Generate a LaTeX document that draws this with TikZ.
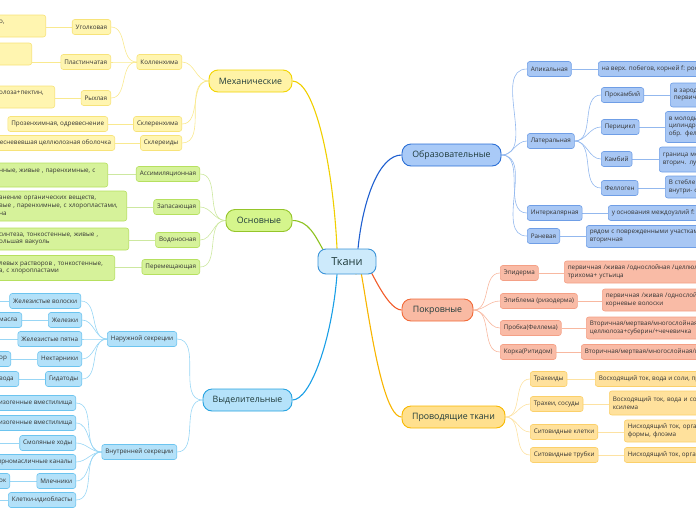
\documentclass[tikz,border=0pt]{standalone}
\usepackage{fontspec}
\setmainfont{Open Sans}
\usetikzlibrary{backgrounds}
\definecolor{ymainf}{HTML}{FFF3A6}\definecolor{ymaind}{HTML}{F2D400}
\definecolor{ysubf}{HTML}{FFF5B0}\definecolor{ysubd}{HTML}{F7E37A}
\definecolor{yline}{HTML}{F9E98F}\definecolor{ymline}{HTML}{F0CF00}
\definecolor{gmainf}{HTML}{D5F58C}\definecolor{gmaind}{HTML}{95C52A}
\definecolor{gsubf}{HTML}{D6F29A}\definecolor{gsubd}{HTML}{B6E060}
\definecolor{gline}{HTML}{CDE8A0}\definecolor{gmline}{HTML}{8DC21F}
\definecolor{cmainf}{HTML}{B5E2FA}\definecolor{cmaind}{HTML}{27A3E0}
\definecolor{csubf}{HTML}{B3E1F9}\definecolor{csubd}{HTML}{6CC4EF}
\definecolor{cline}{HTML}{98D6F5}\definecolor{cmline}{HTML}{1A9FE6}
\definecolor{bmainf}{HTML}{A9CAF7}\definecolor{bmaind}{HTML}{2B6FD5}
\definecolor{bsubf}{HTML}{A8C7F4}\definecolor{bsubd}{HTML}{6F9EE6}
\definecolor{bline}{HTML}{93B8EE}\definecolor{bmline}{HTML}{1F5FD0}
\definecolor{smainf}{HTML}{F9BAA3}\definecolor{smaind}{HTML}{F26A38}
\definecolor{ssubf}{HTML}{F9BBA6}\definecolor{ssubd}{HTML}{F4A086}
\definecolor{sline}{HTML}{F8B8A0}\definecolor{smline}{HTML}{F25C2A}
\definecolor{omainf}{HTML}{FFE08E}\definecolor{omaind}{HTML}{F8B800}
\definecolor{osubf}{HTML}{FFE19C}\definecolor{osubd}{HTML}{FBD06A}
\definecolor{oline}{HTML}{FDE2A2}\definecolor{omline}{HTML}{F8B500}
\definecolor{tkf}{HTML}{CDEAFB}\definecolor{tkd}{HTML}{3A93D8}
\definecolor{mtext}{HTML}{1E3A3A}\definecolor{stext}{HTML}{333333}
\begin{document}
\begin{tikzpicture}[x=1pt,y=-1pt,
  base/.style={draw, align=left, text=stext, font=\fontsize{6.3}{7.8}\selectfont,
    inner xsep=3.5pt, inner ysep=0pt, minimum height=15pt, rounded corners=2.5pt, line width=0.6pt},
  mainbox/.style={draw, text=mtext, font=\fontsize{8.8}{10}\selectfont, minimum height=22pt,
    rounded corners=9pt, line width=0.9pt, inner xsep=2pt},
  ymain/.style={mainbox, fill=ymainf, draw=ymaind},
  gmain/.style={mainbox, fill=gmainf, draw=gmaind},
  cmain/.style={mainbox, fill=cmainf, draw=cmaind},
  bmain/.style={mainbox, fill=bmainf, draw=bmaind},
  smain/.style={mainbox, fill=smainf, draw=smaind},
  omain/.style={mainbox, fill=omainf, draw=omaind},
  ysub/.style={base, fill=ysubf, draw=ysubd},
  gsub/.style={base, fill=gsubf, draw=gsubd},
  csub/.style={base, fill=csubf, draw=csubd},
  bsub/.style={base, fill=bsubf, draw=bsubd},
  ssub/.style={base, fill=ssubf, draw=ssubd},
  osub/.style={base, fill=osubf, draw=osubd},
  conn/.style={line width=0.6pt},
  yl/.style={conn, draw=yline}, gl/.style={conn, draw=gline}, cl/.style={conn, draw=cline},
  bl/.style={conn, draw=bline}, sl/.style={conn, draw=sline}, ol/.style={conn, draw=oline},
  mconn/.style={line width=1.1pt},
  L/.style={out=180,in=0}, R/.style={out=0,in=180}
]
\useasboundingbox (0,0) rectangle (696,520);
\clip (0,0) rectangle (696,520);

% centre
\node[draw=tkd, fill=tkf, text=mtext, font=\fontsize{11}{12}\selectfont, minimum width=58pt,
  minimum height=25pt, rounded corners=8pt, line width=0.9pt] (tk) at (347,261.5) {Ткани};

% ---------- Механические ----------
\node[ymain, minimum width=83pt] (mech) at (250.5,81) {Механические};
\node[ysub, anchor=east] (koll) at (182,62) {Колленхима};
\node[ysub, anchor=east] (ugol) at (111,27) {Уголковая};
\node[ysub, anchor=east, text width=43pt, minimum height=22pt] (ugolT) at (46,26) {о,\\\mbox{}};
\node[ysub, anchor=east] (plast) at (111,62) {Пластинчатая};
\node[ysub, anchor=east, text width=29pt, minimum height=22pt] (plastT) at (32,54) {\mbox{}\\\mbox{}};
\node[ysub, anchor=east] (ryh) at (111,98) {Рыхлая};
\node[ysub, anchor=east, text width=52pt, minimum height=22pt] (ryhT) at (55,97) {олоза+пектин,\\\mbox{}};
\node[ysub, anchor=east] (skl) at (182,124) {Склеренхима};
\node[ysub, anchor=east] (sklT) at (108,124) {Прозенхимная, одревеснение};
\node[ysub, anchor=east] (skld) at (182,143) {Склереиды};
\node[ysub, anchor=east] (skldT) at (115,143) {евесневевшая целлюлозная оболочка};

% ---------- Основные ----------
\node[gmain, minimum width=66pt] (osn) at (259,220.5) {Основные};
\node[gsub, anchor=east] (assim) at (200,174) {Ассимиляционная};
\node[gsub, anchor=east, text width=105pt, minimum height=24pt] (assimT) at (108,175) {нные, живые , паренхимные, с\\\mbox{}};
\node[gsub, anchor=east] (zapas) at (200,207) {Запасающая};
\node[gsub, anchor=east, text width=124pt, minimum height=30pt] (zapasT) at (127,206) {анение органических веществ,\\вые , паренхимные, с хлоропластами,\\на};
\node[gsub, anchor=east] (vodo) at (200,240) {Водоносная};
\node[gsub, anchor=east, text width=126pt, minimum height=22pt] (vodoT) at (129,239) {синтеза, тонкостенные, живые ,\\ольшая вакуоль};
\node[gsub, anchor=east] (perem) at (200,267) {Перемещающая};
\node[gsub, anchor=east, text width=112pt, minimum height=25pt] (peremT) at (115,268) {левых растворов , тонкостенные,\\а, с хлоропластами};

% ---------- Выделительные ----------
\node[cmain, minimum width=89pt] (vyd) at (247.5,400) {Выделительные};
\node[csub, anchor=east] (nar) at (177,339) {Наружной секреции};
\node[csub, anchor=east] (zhv) at (81,301) {Железистые волоски};
\coordinate (zhvT) at (-5,301);
\node[csub, anchor=east] (zhk) at (82,320) {Железки};
\node[csub, anchor=east, text width=19pt] (zhkT) at (22,320) {масла};
\node[csub, anchor=east] (zhp) at (82,339) {Железистые пятна};
\coordinate (zhpT) at (-5,339);
\node[csub, anchor=east] (nekt) at (82,359) {Нектарники};
\node[csub, anchor=east, text width=8pt] (nektT) at (11,359) {ор};
\node[csub, anchor=east] (gid) at (82,379) {Гидатоды};
\node[csub, anchor=east, text width=16pt] (gidT) at (19,379) {вода};
\node[csub, anchor=east] (vnut) at (177,452) {Внутренней секреции};
\node[csub, anchor=east] (sch) at (76,403) {Схизогенные вместилища};
\node[csub, anchor=east] (liz) at (76,423) {Лизогенные вместилища};
\node[csub, anchor=east] (smol) at (76,443) {Смоляные ходы};
\coordinate (smolT) at (-5,443);
\node[csub, anchor=east] (efir) at (76,462) {Эфирномасличные каналы};
\node[csub, anchor=east] (mlech) at (76,481) {Млечники};
\node[csub, anchor=east, text width=7pt] (mlechT) at (10,481) {ок};
\node[csub, anchor=east] (idio) at (76,500) {Клетки-идиобласты};
\coordinate (idioT) at (-5,500);

% ---------- Образовательные ----------
\node[bmain, minimum width=99pt] (obr) at (451.5,155) {Образовательные};
\node[bsub, anchor=west] (apik) at (527,69) {Апикальная};
\node[bsub, anchor=west] (apikT) at (598,69) {на верх. побегов, корней f: рост в длину};
\node[bsub, anchor=west] (lat) at (527,141) {Латеральная};
\node[bsub, anchor=west] (prok) at (601,95) {Прокамбий};
\node[bsub, anchor=west, text width=80pt, minimum height=24pt] (prokT) at (670,95) {в зародыше,\\первичные};
\node[bsub, anchor=west] (peri) at (601,127) {Перицикл};
\node[bsub, anchor=west, text width=80pt, minimum height=31pt] (periT) at (665,127) {в молодых корнях,\\цилиндр,\\обр. феллоген};
\node[bsub, anchor=west] (kamb) at (601,159) {Камбий};
\node[bsub, anchor=west, text width=90pt, minimum height=25pt] (kambT) at (659,159.5) {граница между,\\вторич. луб};
\node[bsub, anchor=west] (fell) at (601,188) {Феллоген};
\node[bsub, anchor=west, text width=80pt, minimum height=22pt] (fellT) at (665,187) {В стебле и корне,\\внутри- феллодерма};
\node[bsub, anchor=west] (inter) at (527,213) {Интеркалярная};
\node[bsub, anchor=west] (interT) at (608,213) {у основания междоузлий f: рост в длину};
\node[bsub, anchor=west] (ran) at (527,236) {Раневая};
\node[bsub, anchor=west, text width=130pt, minimum height=22pt] (ranT) at (586,236.5) {рядом с поврежденными участками,\\вторичная};

% ---------- Покровные ----------
\node[smain, minimum width=71pt] (pokr) at (437.5,310) {Покровные};
\node[ssub, anchor=west] (epid) at (500,273) {Эпидерма};
\node[ssub, anchor=west, text width=150pt, minimum height=22pt] (epidT) at (564,272) {первичная /живая /однослойная /целлюлоза\\трихома+ устьица};
\node[ssub, anchor=west] (epib) at (500,301) {Эпиблема (ризодерма)};
\node[ssub, anchor=west, text width=120pt, minimum height=22pt] (epibT) at (602,300) {первичная /живая /однослойная\\корневые волоски};
\node[ssub, anchor=west] (prob) at (500,328) {Пробка(Феллема)};
\node[ssub, anchor=west, text width=130pt, minimum height=22pt] (probT) at (586,328) {Вторичная/мертвая/многослойная/\\целлюлоза+суберин/+чечевичка};
\node[ssub, anchor=west] (kork) at (500,352) {Корка(Ритидом)};
\node[ssub, anchor=west] (korkT) at (581,352) {Вторичная/мертвая/многослойная/целлюлоза};

% ---------- Проводящие ткани ----------
\node[omain, minimum width=103pt] (prov) at (453.5,417) {Проводящие ткани};
\node[osub, anchor=west] (trah) at (530,379) {Трахеиды};
\node[osub, anchor=west] (trahT) at (595,379) {Восходящий ток, вода и соли, проводит};
\node[osub, anchor=west] (trahei) at (530,404) {Трахеи, сосуды};
\node[osub, anchor=west, text width=110pt, minimum height=24pt] (traheiT) at (609,403) {Восходящий ток, вода и соли,\\ксилема};
\node[osub, anchor=west] (sitk) at (530,432) {Ситовидные клетки};
\node[osub, anchor=west, text width=100pt, minimum height=22pt] (sitkT) at (624,431) {Нисходящий ток, органические\\формы, флоэма};
\node[osub, anchor=west] (situ) at (530,455) {Ситовидные трубки};
\node[osub, anchor=west] (situT) at (624,455) {Нисходящий ток, органические};

% ---------- connectors ----------
\begin{scope}[on background layer]
\draw[mconn, draw=ymline] (mech.east) .. controls +(22,0) and +(-4,-85) .. ([xshift=-10pt]tk.north);
\draw[mconn, draw=gmline] (osn.east) .. controls +(16,0) and +(-8,-14) .. ([xshift=-24pt,yshift=-1pt]tk.north);
\draw[mconn, draw=cmline] (vyd.east) .. controls +(18,0) and +(-5,65) .. ([xshift=-10pt]tk.south);
\draw[mconn, draw=bmline] (obr.west) .. controls +(-22,0) and +(5,-50) .. ([xshift=11pt]tk.north);
\draw[mconn, draw=smline] (pokr.west) .. controls +(-16,0) and +(-5,-18) .. ([xshift=23pt,yshift=1.5pt]tk.south);
\draw[mconn, draw=omline] (prov.west) .. controls +(-28,0) and +(2,-70) .. ([xshift=9pt]tk.south);

\draw[yl] (mech.west) to[L] (koll.east);
\draw[yl] (mech.west) to[L] (skl.east);
\draw[yl] (mech.west) to[L] (skld.east);
\draw[yl] (koll.west) to[L] (ugol.east);
\draw[yl] (koll.west) to[L] (plast.east);
\draw[yl] (koll.west) to[L] (ryh.east);
\draw[yl] (ugol.west) -- (ugolT.east |- ugol.west);
\draw[yl] (plast.west) -- (plastT.east |- plast.west);
\draw[yl] (ryh.west) -- (ryhT.east |- ryh.west);
\draw[yl] (skl.west) -- (sklT.east);
\draw[yl] (skld.west) -- (skldT.east);

\draw[gl] (osn.west) to[L] (assim.east);
\draw[gl] (osn.west) to[L] (zapas.east);
\draw[gl] (osn.west) to[L] (vodo.east);
\draw[gl] (osn.west) to[L] (perem.east);
\draw[gl] (assim.west) -- (assimT.east |- assim.west);
\draw[gl] (zapas.west) -- (zapasT.east |- zapas.west);
\draw[gl] (vodo.west) -- (vodoT.east |- vodo.west);
\draw[gl] (perem.west) -- (peremT.east |- perem.west);

\draw[cl] (vyd.west) to[L] (nar.east);
\draw[cl] (vyd.west) to[L] (vnut.east);
\foreach \c in {zhv,zhk,zhp,nekt,gid} \draw[cl] (nar.west) to[L] (\c.east);
\foreach \c in {sch,liz,smol,efir,mlech,idio} \draw[cl] (vnut.west) to[L] (\c.east);
\draw[cl] (zhv.west) -- (zhvT);
\draw[cl] (zhk.west) -- (zhkT.east);
\draw[cl] (zhp.west) -- (zhpT);
\draw[cl] (nekt.west) -- (nektT.east);
\draw[cl] (gid.west) -- (gidT.east);
\draw[cl] (smol.west) -- (smolT);
\draw[cl] (mlech.west) -- (mlechT.east);
\draw[cl] (idio.west) -- (idioT);

\foreach \c in {apik,lat,inter,ran} \draw[bl] (obr.east) to[R] (\c.west);
\foreach \c in {prok,peri,kamb,fell} \draw[bl] (lat.east) to[R] (\c.west);
\draw[bl] (apik.east) -- (apikT.west);
\draw[bl] (prok.east) -- (prokT.west |- prok.east);
\draw[bl] (peri.east) -- (periT.west |- peri.east);
\draw[bl] (kamb.east) -- (kambT.west |- kamb.east);
\draw[bl] (fell.east) -- (fellT.west |- fell.east);
\draw[bl] (inter.east) -- (interT.west);
\draw[bl] (ran.east) -- (ranT.west |- ran.east);

\foreach \c in {epid,epib,prob,kork} \draw[sl] (pokr.east) to[R] (\c.west);
\draw[sl] (epid.east) -- (epidT.west |- epid.east);
\draw[sl] (epib.east) -- (epibT.west |- epib.east);
\draw[sl] (prob.east) -- (probT.west |- prob.east);
\draw[sl] (kork.east) -- (korkT.west);

\foreach \c in {trah,trahei,sitk,situ} \draw[ol] (prov.east) to[R] (\c.west);
\draw[ol] (trah.east) -- (trahT.west);
\draw[ol] (trahei.east) -- (traheiT.west |- trahei.east);
\draw[ol] (sitk.east) -- (sitkT.west |- sitk.east);
\draw[ol] (situ.east) -- (situT.west);
\end{scope}
\end{tikzpicture}
\end{document}
